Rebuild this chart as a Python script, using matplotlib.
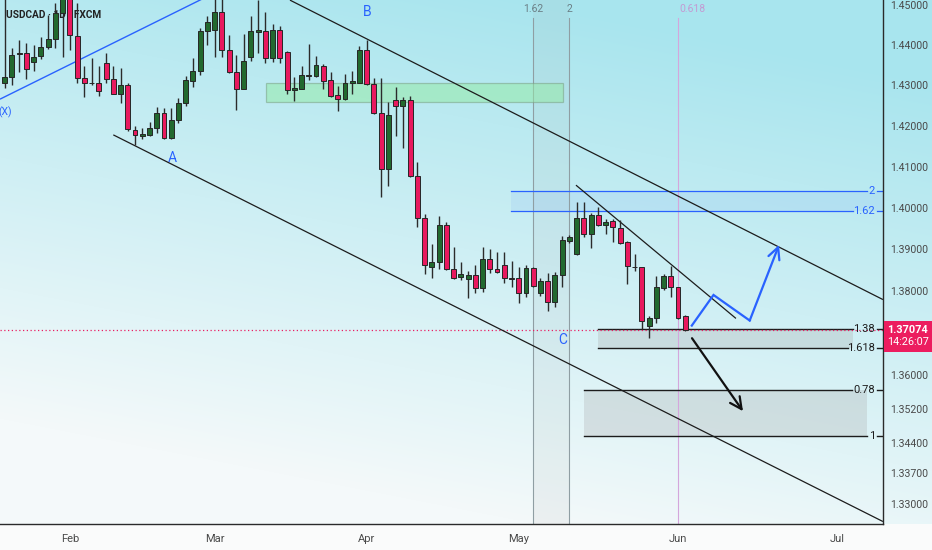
import numpy as np
import matplotlib
matplotlib.use('Agg')
import matplotlib.pyplot as plt
from matplotlib.patches import Rectangle
from matplotlib.ticker import FixedLocator, FuncFormatter, NullLocator

# ---------------- data (USDCAD daily, FXCM) ----------------
opens = [
    1.4306, 1.4321, 1.4377, 1.4381, 1.4358, 1.4373, 1.4395, 1.4415, 1.4481, 1.4780,
    1.4423, 1.4318, 1.4305, 1.4305, 1.4355, 1.4315, 1.4280, 1.4301, 1.4190, 1.4175,
    1.4178, 1.4194, 1.4231, 1.4170, 1.4215, 1.4257, 1.4310, 1.4336, 1.4435, 1.4437,
    1.4483, 1.4387, 1.4334, 1.4292, 1.4371, 1.4434, 1.4436, 1.4367, 1.4437, 1.4384,
    1.4289, 1.4292, 1.4323, 1.4323, 1.4348, 1.4313, 1.4276, 1.4266, 1.4305, 1.4307,
    1.4388, 1.4303, 1.4233, 1.4094, 1.4264, 1.4249, 1.4264, 1.4077, 1.3976, 1.3856,
    1.3868, 1.3958, 1.3852, 1.3832, 1.3829, 1.3838, 1.3807, 1.3877, 1.3852, 1.3862,
    1.3830, 1.3830, 1.3795, 1.3854, 1.3794, 1.3823, 1.3774, 1.3838, 1.3920, 1.3888,
    1.3975, 1.3937, 1.3983, 1.3959, 1.3969, 1.3952, 1.3916, 1.3858, 1.3856, 1.3716,
    1.3734, 1.3807, 1.3836, 1.3808, 1.3740]
highs = [
    1.4515, 1.4393, 1.4413, 1.4406, 1.4400, 1.4421, 1.4476, 1.4506, 1.4560, 1.4793,
    1.4505, 1.4347, 1.4368, 1.4347, 1.4380, 1.4347, 1.4343, 1.4305, 1.4201, 1.4195,
    1.4210, 1.4246, 1.4244, 1.4244, 1.4268, 1.4323, 1.4367, 1.4444, 1.4474, 1.4516,
    1.4530, 1.4426, 1.4376, 1.4427, 1.4473, 1.4513, 1.4484, 1.4452, 1.4448, 1.4386,
    1.4320, 1.4349, 1.4403, 1.4373, 1.4353, 1.4334, 1.4299, 1.4328, 1.4336, 1.4398,
    1.4413, 1.4318, 1.4318, 1.4260, 1.4295, 1.4272, 1.4274, 1.4112, 1.3985, 1.3912,
    1.3980, 1.3965, 1.3906, 1.3870, 1.3848, 1.3862, 1.3904, 1.3900, 1.3893, 1.3893,
    1.3871, 1.3856, 1.3862, 1.3857, 1.3830, 1.3843, 1.3846, 1.3932, 1.3934, 1.4015,
    1.4015, 1.3987, 1.4003, 1.3973, 1.3972, 1.3970, 1.3920, 1.3888, 1.3858, 1.3740,
    1.3835, 1.3840, 1.3860, 1.3810, 1.3742]
lows = [
    1.4294, 1.4301, 1.4333, 1.4316, 1.4336, 1.4366, 1.4391, 1.4393, 1.4371, 1.4388,
    1.4305, 1.4272, 1.4302, 1.4275, 1.4307, 1.4278, 1.4257, 1.4188, 1.4153, 1.4168,
    1.4175, 1.4182, 1.4167, 1.4167, 1.4206, 1.4249, 1.4295, 1.4326, 1.4400, 1.4370,
    1.4371, 1.4332, 1.4239, 1.4290, 1.4361, 1.4380, 1.4355, 1.4357, 1.4355, 1.4278,
    1.4262, 1.4290, 1.4314, 1.4320, 1.4290, 1.4272, 1.4237, 1.4264, 1.4278, 1.4305,
    1.4301, 1.4229, 1.4027, 1.4053, 1.4175, 1.4145, 1.4076, 1.3954, 1.3840, 1.3830,
    1.3852, 1.3850, 1.3829, 1.3826, 1.3782, 1.3794, 1.3798, 1.3842, 1.3842, 1.3818,
    1.3810, 1.3770, 1.3786, 1.3810, 1.3788, 1.3752, 1.3762, 1.3810, 1.3915, 1.3886,
    1.3930, 1.3903, 1.3956, 1.3936, 1.3918, 1.3912, 1.3816, 1.3848, 1.3710, 1.3687,
    1.3722, 1.3802, 1.3786, 1.3732, 1.3703]
closes = [
    1.4321, 1.4376, 1.4381, 1.4340, 1.4371, 1.4395, 1.4415, 1.4480, 1.4530, 1.4426,
    1.4318, 1.4307, 1.4307, 1.4287, 1.4315, 1.4280, 1.4301, 1.4192, 1.4178, 1.4179,
    1.4194, 1.4231, 1.4170, 1.4215, 1.4257, 1.4313, 1.4337, 1.4435, 1.4458, 1.4483,
    1.4387, 1.4334, 1.4292, 1.4361, 1.4436, 1.4437, 1.4367, 1.4437, 1.4369, 1.4289,
    1.4293, 1.4325, 1.4325, 1.4350, 1.4312, 1.4275, 1.4266, 1.4305, 1.4312, 1.4388,
    1.4303, 1.4233, 1.4094, 1.4227, 1.4249, 1.4264, 1.4077, 1.3975, 1.3862, 1.3869,
    1.3958, 1.3852, 1.3831, 1.3840, 1.3838, 1.3807, 1.3877, 1.3852, 1.3846, 1.3830,
    1.3828, 1.3795, 1.3854, 1.3812, 1.3823, 1.3774, 1.3838, 1.3922, 1.3929, 1.3975,
    1.3937, 1.3983, 1.3958, 1.3965, 1.3953, 1.3914, 1.3859, 1.3856, 1.3728, 1.3736,
    1.3808, 1.3836, 1.3808, 1.3734, 1.37074]

month_labels = ['Feb', 'Mar', 'Apr', 'May', 'Jun', 'Jul']
month_bars = [9, 29, 50, 71, 93, 115]
price_ticks = [1.45, 1.44, 1.43, 1.42, 1.41, 1.40, 1.39, 1.38,
               1.36, 1.352, 1.344, 1.337, 1.33]
last_price = 1.37074
countdown = '14:26:07'
title = 'USDCAD · 1D · FXCM'

# drawing anchors (bar index, price)
x_wave_line = [(-0.65, 1.4266), (28.4, 1.4526)]
channel_upper = [(39.4, 1.4513), (121.3, 1.3779)]
channel_lower = [(15.0, 1.4178), (121.3, 1.3259)]
wedge_line = [(78.9, 1.4055), (101.0, 1.3734)]
blue_path = [(94.9, 1.3717), (97.9, 1.3790), (102.9, 1.3729), (106.95, 1.3910)]
black_arrow = [(94.93, 1.3687), (101.97, 1.3515)]
green_box = (36.05, 77.1, 1.4258, 1.4305)
fib_blue = {'2': 1.4041, '1.62': 1.3992}
fib_zone1 = {'1.38': 1.3708, '1.618': 1.3663}
fib_zone2 = {'0.78': 1.3564, '1': 1.3457}
time_fib = {'1.62': 73, '2': 78}
time_fib_0618 = 93
wave_labels = [('A', 23.1, 1.4121), ('B', 50.0, 1.4483), ('C', 77.0, 1.3683), ('(X)', 0.1, 1.4234)]

# ---------------- figure ----------------
W, H = 932, 550
fig = plt.figure(figsize=(W / 100, H / 100), dpi=100)
fig.patch.set_facecolor('white')

# background gradient
bg = fig.add_axes([0, 0, 1, 1], zorder=-10)
bg.axis('off')
yy, xx = np.mgrid[0:1:H * 1j, 0:1:W * 1j]
t = np.clip(1.05 * (1 - yy) + 0.35 * xx - 0.25, 0, 1)
top_c = np.array([168, 229, 238]) / 255
bot_c = np.array([244, 249, 250]) / 255
img = bot_c + (top_c - bot_c) * t[..., None]
img[int(524):, :, :] = np.array([250, 251, 251]) / 255
bg.imshow(img, aspect='auto', extent=[0, 1, 0, 1], origin='upper')
bg.set_xlim(0, 1)
bg.set_ylim(0, 1)

AX_RIGHT = 883
AX_BOTTOM = 524
ax = fig.add_axes([0, (H - AX_BOTTOM) / H, AX_RIGHT / W, AX_BOTTOM / H], zorder=1)
ax.set_facecolor('none')
ax.set_yscale('log')
ax.set_xlim(-0.649, 121.31)
ax.set_ylim(1.32533, 1.45133)

NARROW = ['Liberation Sans Narrow', 'Roboto', 'DejaVu Sans']
AXIS_COL = '#4a4a4a'

# axes styling
for s in ['top', 'left']:
    ax.spines[s].set_visible(False)
ax.spines['right'].set_color('#2a2a2a')
ax.spines['right'].set_linewidth(1.0)
ax.spines['bottom'].set_color('#2a2a2a')
ax.spines['bottom'].set_linewidth(1.0)
ax.yaxis.tick_right()
ax.yaxis.set_major_locator(FixedLocator(price_ticks))
ax.yaxis.set_minor_locator(NullLocator())
ax.yaxis.set_major_formatter(FuncFormatter(lambda v, p: f'{v:.5f}'))
ax.set_xticks(month_bars)
ax.set_xticklabels(month_labels)
ax.tick_params(axis='y', length=0, pad=5, labelsize=7.6, labelcolor=AXIS_COL)
ax.tick_params(axis='x', length=0, pad=7, labelsize=8, labelcolor=AXIS_COL)
for lab in ax.get_yticklabels() + ax.get_xticklabels():
    lab.set_family(NARROW)

BLUE = '#2962ff'
DARK = '#1c1c1c'

# title (under candles)
ax.text(6 / AX_RIGHT, 1 - 15 / AX_BOTTOM, title, transform=ax.transAxes, ha='left', va='center',
        fontsize=7.3, color='#222222', fontweight='bold', family=['Roboto', 'DejaVu Sans'], zorder=2)

# vertical time fib band
k1, k2 = time_fib['1.62'], time_fib['2']
ax.add_patch(Rectangle((k1, 1.3), k2 - k1, 0.2, facecolor='#9e9e9e', alpha=0.09, lw=0, zorder=1))
vtop = 1.4468
for lab, k in time_fib.items():
    ax.plot([k, k], [1.30, vtop], color='#8f9ea3', lw=0.8, zorder=1.5)
    ax.text(k, 1.4490, lab, ha='center', va='center', fontsize=7.5, color='#6b7f86', family=NARROW)
ax.plot([time_fib_0618, time_fib_0618], [1.30, vtop], color='#d4a6dc', lw=0.8, zorder=1.5)
ax.text(time_fib_0618 + 0.25, 1.4490, '0.618', ha='left', va='center', fontsize=7.5,
        color='#c39bd3', family=NARROW)

# green zone
gx0, gx1, gy0, gy1 = green_box
ax.add_patch(Rectangle((gx0, gy0), gx1 - gx0, gy1 - gy0, facecolor='#95eaa8', alpha=0.55,
                       edgecolor='#7aa084', lw=0.9, zorder=1.6))

# fib zones at right
X_LABEL = 120.2
X_TICK = (120.5, 121.31)


def level(price, x0, x1, label, color, lw=1.0):
    ax.plot([x0, x1], [price, price], color=color, lw=lw, zorder=2)
    ax.text(X_LABEL, price, label, ha='right', va='center', color=color, fontsize=8, family=NARROW, zorder=6)
    ax.plot(X_TICK, [price, price], color=color, lw=lw, zorder=2)


p2, p162 = fib_blue['2'], fib_blue['1.62']
ax.add_patch(Rectangle((69.9, p162), 121.31 - 69.9, p2 - p162, facecolor=BLUE, alpha=0.065, lw=0, zorder=1.4))
level(p2, 69.9, 119.1, '2', BLUE, 0.9)
level(p162, 69.9, 117.2, '1.62', BLUE, 0.9)

pa, pb = fib_zone1['1.38'], fib_zone1['1.618']
ax.add_patch(Rectangle((82.0, pb), 117.2 - 82.0, pa - pb, facecolor='#a8a8a8', alpha=0.28, lw=0, zorder=1.4))
level(pa, 82.0, 117.2, '1.38', DARK)
level(pb, 82.0, 116.5, '1.618', DARK)

pc, pd = fib_zone2['0.78'], fib_zone2['1']
ax.add_patch(Rectangle((80.0, pd), 119.1 - 80.0, pc - pd, facecolor='#a8a8a8', alpha=0.28, lw=0, zorder=1.4))
level(pc, 80.0, 117.0, '0.78', DARK)
level(pd, 80.0, 119.1, '1', DARK)

# trend lines
for line, col in [(x_wave_line, BLUE), (channel_upper, DARK), (channel_lower, DARK), (wedge_line, DARK)]:
    xs, ys = zip(*line)
    ax.plot(xs, ys, color=col, lw=0.9 if col == DARK else 1.0, zorder=2.5, solid_capstyle='butt')

# last price dotted line
ax.axhline(last_price, color='#e91e63', lw=0.9, ls=(0, (1, 2)), zorder=2.2)

# candles
o = np.array(opens); h = np.array(highs); l = np.array(lows); c = np.array(closes)
x = np.arange(len(o))
up = c >= o
colors = np.where(up, '#22692f', '#e8195e')
ax.vlines(x, l, h, color='#2b2b2b', lw=1.0, zorder=3)
body_lo = np.minimum(o, c)
body_h = np.maximum(np.abs(c - o), 0.00018)
ax.bar(x, body_h, bottom=body_lo, width=0.68, color=colors, edgecolor='#262626', linewidth=0.7, zorder=4)

# projected paths
bx, by = zip(*blue_path)
ax.plot(bx[:-1], by[:-1], color=BLUE, lw=1.6, zorder=5, solid_joinstyle='miter')
ax.annotate('', xy=blue_path[-1], xytext=blue_path[-2],
            arrowprops=dict(arrowstyle='->,head_length=0.7,head_width=0.35', color=BLUE, lw=1.6,
                            shrinkA=0, shrinkB=0, mutation_scale=12), zorder=5)
ax.annotate('', xy=black_arrow[1], xytext=black_arrow[0],
            arrowprops=dict(arrowstyle='->,head_length=0.7,head_width=0.35', color='#111111', lw=1.6,
                            shrinkA=0, shrinkB=0, mutation_scale=12), zorder=5)

# wave labels
for lab, k, p in wave_labels:
    ax.text(k, p, lab, ha='center', va='center', color=BLUE,
            fontsize=7.5 if lab == '(X)' else 10, family=NARROW, zorder=6)

# last price box on the axis
y_price = ax.transData.transform((0, last_price))[1]
fy = fig.transFigure.inverted().transform((0, y_price))[1]
box_h = 31 / H
fig.add_artist(Rectangle((AX_RIGHT / W + 0.6 / W, fy - 22 / H), 1 - AX_RIGHT / W, box_h,
                         transform=fig.transFigure, facecolor='#ec1d5f', edgecolor='none', zorder=5))
fig.text((AX_RIGHT + 4) / W, fy, f'{last_price:.5f}', color='white', fontsize=7.8, fontweight='bold',
         ha='left', va='center', family=NARROW, zorder=6)
fig.text((AX_RIGHT + 4) / W, fy - 12.5 / H, countdown, color='white', fontsize=7.8,
         ha='left', va='center', family=NARROW, zorder=6)

fig.savefig('out.png', dpi=100)
